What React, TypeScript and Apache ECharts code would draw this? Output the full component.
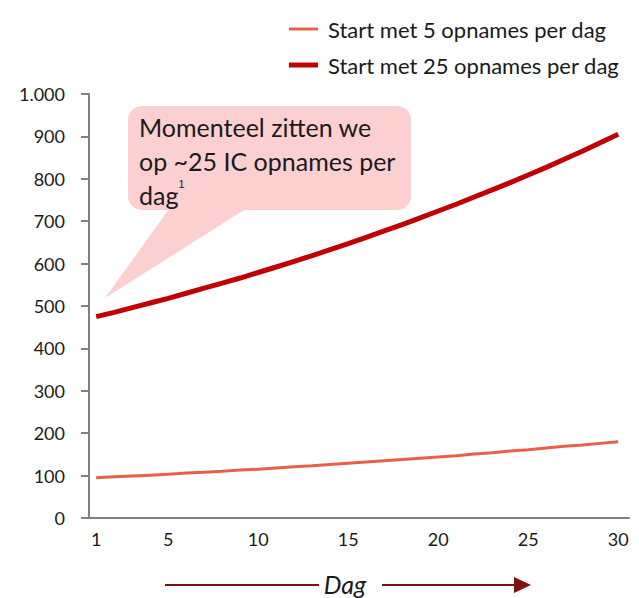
import React, { useEffect, useRef } from "react";
import * as echarts from "echarts";

const days = [1, 2, 3, 4, 5, 6, 7, 8, 9, 10, 11, 12, 13, 14, 15, 16, 17, 18, 19, 20, 21, 22, 23, 24, 25, 26, 27, 28, 29, 30];
const start5 = [95, 97, 99, 101, 103, 106, 108, 110, 113, 115, 118, 121, 123, 126, 129, 132, 135, 138, 141, 144, 147, 151, 154, 158, 161, 165, 169, 172, 176, 180];
const start25 = [475, 485, 496, 507, 518, 530, 542, 554, 566, 579, 592, 605, 619, 633, 647, 662, 677, 692, 708, 724, 740, 757, 774, 791, 809, 827, 846, 865, 885, 905];
const xTicks = [1, 5, 10, 15, 20, 25, 30];
const seriesNames = ["Start met 5 opnames per dag", "Start met 25 opnames per dag"];
const calloutText = "Momenteel zitten we\nop ~25 IC opnames per\ndag{sup|1}";
const axisTitle = "Dag";

const FONT = "Lato, 'Open Sans', sans-serif";

export default function App() {
  const ref = useRef<HTMLDivElement>(null);
  useEffect(() => {
    if (!ref.current) return;
    const chart = echarts.init(ref.current, undefined, { renderer: "svg" });
    const fmt = (v: number) => (v >= 1000 ? "1.000" : String(v));
    const legendText = { fontSize: 22, lineHeight: 22, color: "#1a1a1a", fontFamily: FONT, padding: [0, 0, 0, 5] };
    chart.setOption({
      animation: false,
      backgroundColor: "#ffffff",
      textStyle: { fontFamily: FONT },
      legend: [
        {
          orient: "vertical",
          left: 284,
          top: 13,
          icon: "rect",
          itemWidth: 29,
          itemHeight: 3,
          textStyle: legendText,
          data: [seriesNames[0]],
        },
        {
          orient: "vertical",
          left: 284,
          top: 49,
          icon: "rect",
          itemWidth: 29,
          itemHeight: 5,
          textStyle: legendText,
          data: [seriesNames[1]],
        },
      ],
      grid: { left: 89, right: 10, top: 94, bottom: 80, containLabel: false },
      xAxis: {
        type: "value",
        min: 0.6,
        max: 30.6,
        axisLine: { show: true, lineStyle: { color: "#808080", width: 2 } },
        axisTick: { show: false },
        splitLine: { show: false },
        axisLabel: {
          customValues: xTicks,
          color: "#1a1a1a",
          fontSize: 18,
          margin: 12,
          fontFamily: FONT,
        },
      },
      yAxis: {
        type: "value",
        min: 0,
        max: 1000,
        interval: 100,
        axisLine: { show: true, lineStyle: { color: "#808080", width: 2 } },
        axisTick: { show: true, length: 8, lineStyle: { color: "#808080", width: 2 } },
        splitLine: { show: false },
        axisLabel: { formatter: fmt, color: "#1a1a1a", fontSize: 18, margin: 24, fontFamily: FONT },
      },
      series: [
        {
          name: seriesNames[0],
          type: "line",
          data: days.map((d, i) => [d, start5[i]]),
          symbol: "none",
          lineStyle: { color: "#e9604a", width: 3 },
          itemStyle: { color: "#e9604a" },
        },
        {
          name: seriesNames[1],
          type: "line",
          data: days.map((d, i) => [d, start25[i]]),
          symbol: "none",
          lineStyle: { color: "#c00000", width: 5 },
          itemStyle: { color: "#c00000" },
        },
      ],
      graphic: [
        {
          type: "polygon",
          shape: { points: [[172, 205], [252, 205], [105, 298]] },
          style: { fill: "#fcd0d0" },
        },
        {
          type: "rect",
          shape: { x: 128, y: 106, width: 283, height: 104, r: 14 },
          style: { fill: "#fcd0d0" },
        },
        {
          type: "text",
          x: 139,
          y: 110,
          style: {
            text: calloutText,
            fontSize: 25,
            lineHeight: 34,
            fill: "#1a1a1a",
            fontFamily: FONT,
            rich: { sup: { fontSize: 11, verticalAlign: "top", lineHeight: 22, padding: [0, 0, 0, 0], fill: "#1a1a1a" } },
          },
        },
        {
          type: "line",
          shape: { x1: 165, y1: 585, x2: 319, y2: 585 },
          style: { stroke: "#7f1010", lineWidth: 2 },
        },
        {
          type: "text",
          x: 345,
          y: 584,
          style: {
            text: axisTitle,
            fontSize: 25,
            fontStyle: "italic",
            fill: "#1a1a1a",
            fontFamily: FONT,
            align: "center",
            verticalAlign: "middle",
          },
        },
        {
          type: "line",
          shape: { x1: 382, y1: 585, x2: 517, y2: 585 },
          style: { stroke: "#7f1010", lineWidth: 2 },
        },
        {
          type: "polygon",
          shape: { points: [[514, 577], [531, 585], [514, 593]] },
          style: { fill: "#7f1010" },
        },
      ],
    });
    return () => chart.dispose();
  }, []);
  return <div ref={ref} style={{ width: 639, height: 598, marginLeft: -8, marginTop: -8 }} />;
}
